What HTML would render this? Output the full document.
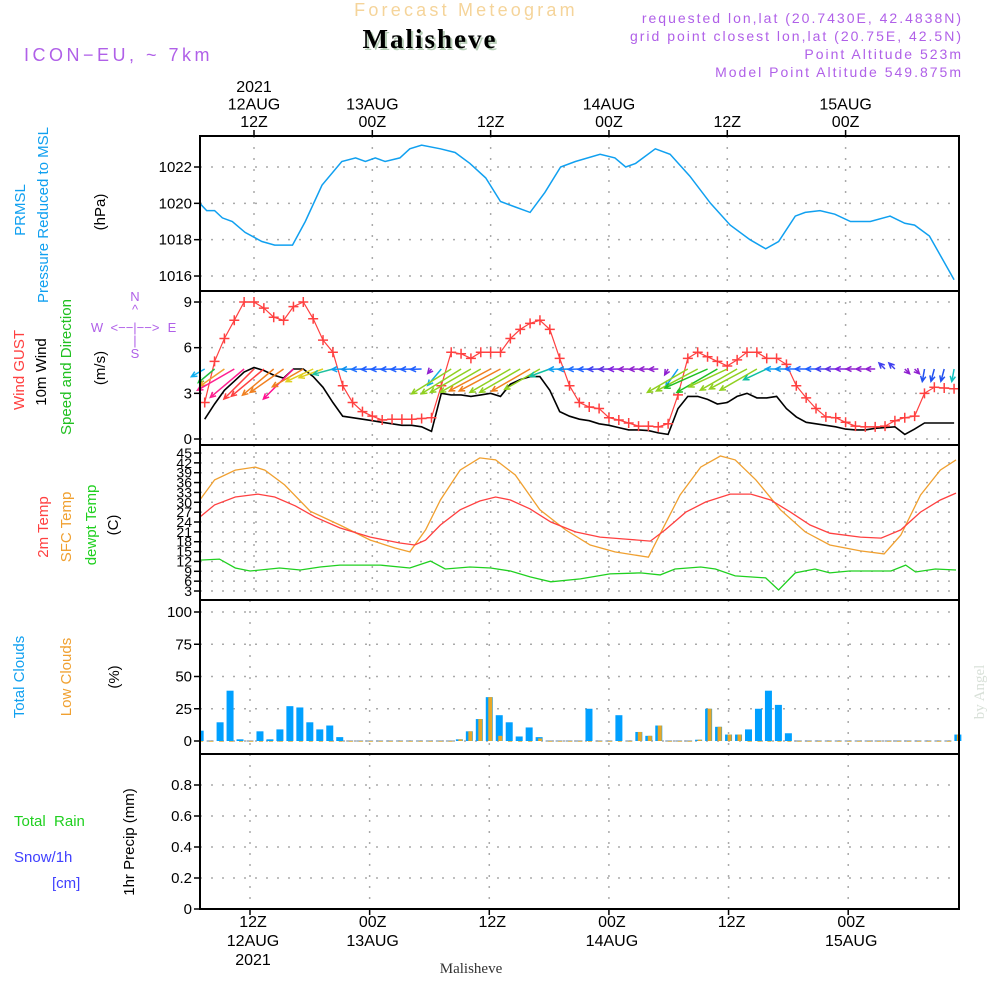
<!DOCTYPE html>
<html><head><meta charset="utf-8"><style>
body{margin:0;background:#fff;}
svg{display:block;font-family:"Liberation Sans",sans-serif;}
</style></head><body>
<svg id="chart" width="1000" height="1000" viewBox="0 0 1000 1000" xmlns="http://www.w3.org/2000/svg">
<g>
<text x="466" y="16" text-anchor="middle" font-size="18" letter-spacing="3.2" fill="#f5d49a">Forecast Meteogram</text>
<text x="432" y="50" text-anchor="middle" font-family="Liberation Serif,serif" font-weight="bold" font-size="27" letter-spacing="2" fill="#b8cfb8">Malisheve</text>
<text x="430" y="48" text-anchor="middle" font-family="Liberation Serif,serif" font-weight="bold" font-size="27" letter-spacing="2" fill="#000">Malisheve</text>
<text x="24" y="61" font-size="18" letter-spacing="3.5" fill="#b060e8">ICON−EU, ~ 7km</text>
<g font-size="14" fill="#b060e8" text-anchor="end" letter-spacing="2">
<text x="963" y="23">requested lon,lat (20.7430E, 42.4838N)</text>
<text x="963" y="41">grid point closest lon,lat (20.75E, 42.5N)</text>
<text x="963" y="59">Point Altitude 523m</text>
<text x="963" y="77">Model Point Altitude 549.875m</text>
</g>
</g>
<g id="grids"></g>
<g id="marks"></g>
<g id="axes"></g>
<g font-size="15">
<text transform="translate(25,210) rotate(-90)" text-anchor="middle" fill="#10a0f0">PRMSL</text>
<text transform="translate(48,215) rotate(-90)" text-anchor="middle" fill="#10a0f0">Pressure Reduced to MSL</text>
<text transform="translate(105,212) rotate(-90)" text-anchor="middle" fill="#000">(hPa)</text>
<text transform="translate(24,370) rotate(-90)" text-anchor="middle" fill="#ff4040">Wind GUST</text>
<text transform="translate(46,372) rotate(-90)" text-anchor="middle" fill="#000">10m Wind</text>
<text transform="translate(71,367) rotate(-90)" text-anchor="middle" fill="#20c020">Speed and Direction</text>
<text transform="translate(105,368) rotate(-90)" text-anchor="middle" fill="#000">(m/s)</text>
<g fill="#b060e8" font-size="13" text-anchor="middle">
<text x="135" y="301">N</text><text x="135" y="314">^</text><text x="135" y="332">&lt;−−|−−&gt;</text><text x="97" y="332">W</text><text x="172" y="332">E</text><text x="135" y="345">|</text><text x="135" y="358">S</text>
</g>
<text transform="translate(48,527) rotate(-90)" text-anchor="middle" fill="#ff4040">2m Temp</text>
<text transform="translate(71,527) rotate(-90)" text-anchor="middle" fill="#f0a030">SFC Temp</text>
<text transform="translate(96,525) rotate(-90)" text-anchor="middle" fill="#20d020">dewpt Temp</text>
<text transform="translate(118,525) rotate(-90)" text-anchor="middle" fill="#000">(C)</text>
<text transform="translate(24,677) rotate(-90)" text-anchor="middle" fill="#10a0f0">Total Clouds</text>
<text transform="translate(71,677) rotate(-90)" text-anchor="middle" fill="#f0a030">Low Clouds</text>
<text transform="translate(119,677) rotate(-90)" text-anchor="middle" fill="#000">(%)</text>
<text x="14" y="826" fill="#20d020" xml:space="preserve">Total  Rain</text>
<text x="14" y="862" fill="#4040ff">Snow/1h</text>
<text x="52" y="888" fill="#4040ff">[cm]</text>
<text transform="translate(134,842) rotate(-90)" text-anchor="middle" fill="#000">1hr Precip (mm)</text>
</g>
<text x="471" y="973" text-anchor="middle" font-family="Liberation Serif,serif" font-size="15" fill="#333">Malisheve</text>
<text transform="translate(984,692) rotate(-90)" text-anchor="middle" font-family="Liberation Serif,serif" font-size="15" fill="#d8e0d8">by Angel</text>
</svg>
<script>
// ---- data ----
const pressHours=[-5.5,-4.8,-4.0,-3.2,-2.2,-0.9,0.8,2.1,3.9,5.2,6.9,8.9,10.3,11.3,12.3,13.3,14.8,15.8,17.0,18.9,20.4,21.9,23.5,25.0,26.5,28.0,29.5,31.1,32.6,35.1,36.6,37.7,38.7,40.7,42.2,44.2,46.3,48.3,50.3,51.9,53.2,54.9,55.9,57.4,58.9,60.5,62.5,64.5,66.0,67.0,68.5,71.0];
const pressVals=[1020.0,1019.6,1019.6,1019.2,1019.0,1018.4,1017.9,1017.7,1017.7,1019.0,1021.0,1022.3,1022.5,1022.3,1022.5,1022.3,1022.5,1023.0,1023.2,1023.0,1022.8,1022.2,1021.4,1020.1,1019.8,1019.5,1020.6,1022.0,1022.3,1022.7,1022.5,1022.0,1022.2,1023.0,1022.7,1021.5,1020.0,1018.8,1018.0,1017.5,1017.9,1019.3,1019.5,1019.6,1019.4,1019.0,1019.0,1019.3,1018.9,1018.8,1018.2,1015.8];
const windStartHour=-5;
const gustVals=[2.4,5.1,6.6,7.8,9.0,9.0,8.6,8.0,7.8,8.7,9.0,7.9,6.5,5.7,3.5,2.4,1.8,1.5,1.25,1.3,1.3,1.3,1.35,1.4,3.5,5.7,5.6,5.3,5.7,5.7,5.7,6.6,7.2,7.6,7.8,7.2,5.3,3.5,2.4,2.1,2.0,1.4,1.25,1.05,0.85,0.85,0.8,1.0,2.9,5.3,5.7,5.4,5.1,4.8,5.2,5.7,5.7,5.3,5.3,4.9,3.5,2.7,2.0,1.45,1.4,1.1,0.85,0.8,0.8,0.85,1.2,1.4,1.5,3.0,3.4,3.35,3.3];
const windVals=[1.3,2.3,3.2,3.8,4.4,4.7,4.5,4.2,4.0,4.6,4.6,4.1,3.4,2.4,1.5,1.4,1.3,1.2,1.1,1.0,0.9,0.9,0.8,0.5,3.0,2.9,2.9,2.8,2.9,3.0,2.8,3.6,3.9,4.1,4.1,3.2,1.8,1.5,1.3,1.2,1.0,0.9,0.75,0.6,0.6,0.55,0.4,0.3,2.0,2.8,2.8,2.6,2.3,2.4,2.8,3.0,2.7,2.7,2.8,2.0,1.45,1.1,1.0,0.9,0.8,0.65,0.6,0.6,0.7,0.75,0.8,0.3,0.65,1.05,1.05,1.05,1.05];
const vecDir=[150,140,145,150,140,135,140,140,145,135,150,155,160,165,178,178,178,178,178,178,178,178,178,130,130,148,148,150,150,152,152,150,150,150,150,160,178,178,178,178,178,178,178,178,178,178,178,120,125,150,152,156,150,155,150,152,150,155,180,180,180,180,180,180,180,180,180,180,180,225,225,45,45,100,105,105,100];
const vecSpeed=[1.8,2.5,3.5,5.0,5.2,5.0,5.0,4.8,4.8,5.0,4.2,3.5,3.0,2.4,1.3,1.3,1.3,1.3,1.3,1.3,1.3,1.3,1.3,0.7,2.5,5.5,5.5,5.5,5.5,5.5,5.5,5.5,5.5,5.2,4.8,2.5,1.3,1.3,1.3,1.3,1.3,1.2,1.2,1.2,1.1,1.1,1.1,0.8,2.5,5.5,5.5,5.5,5.5,5.0,5.0,5.0,5.0,3.0,1.3,1.3,1.3,1.3,1.2,1.2,1.2,1.2,1.1,1.1,1.1,1.0,1.0,0.8,0.8,1.5,1.5,1.5,1.5];
const vecColor=['#10b0f0','#20c040','#f0a030','#ff2090','#ff2090','#ff4040','#ff4040','#f08020','#f08020','#ff1090','#f08020','#e0d020','#e0d020','#20c0a0','#10a0f0','#1090f0','#2070ff','#2060ff','#2060ff','#2060ff','#2060ff','#2060ff','#2060ff','#9020d0','#10b0e0','#90d020','#90d020','#90d020','#90d020','#f08020','#f08020','#90d020','#90d020','#f08020','#90d020','#10c0a0','#10a0f0','#1090f0','#2070ff','#2060ff','#4040f0','#6030e0','#8020e0','#9020d0','#9020d0','#9020d0','#9020d0','#9020d0','#10a0f0','#90d020','#90d020','#20c020','#20c020','#90d020','#90d020','#90d020','#90d020','#10c0a0','#10a0f0','#1090f0','#2070ff','#2060ff','#2060ff','#4040f0','#6030e0','#8020e0','#9020d0','#9020d0','#9020d0','#4040f0','#4040f0','#9020d0','#9020d0','#2050f0','#2050f0','#2050f0','#10c0c0'];
const t2Hours=[-5.5,-4,-1.9,0.4,2.1,4.2,6.2,8.7,11.8,14.8,16.3,17.4,18.9,20.9,22.9,24.5,26,28,30.1,32.6,35.1,37.7,40.2,41.7,43.8,45.8,48.3,50.4,52.4,54.4,56.4,58.4,61.5,63.6,65.6,67.6,69.6,71.2];
const t2Vals=[25.5,29.2,31.6,32.5,31.6,28.9,25.5,22.2,19.4,17.6,17,18.5,23.1,27.7,30.4,31.6,30.7,28,24,21,19.4,18.8,18.2,21.6,27,30.1,32.5,32.5,30.7,27,23.1,20.6,19.4,19.1,21.6,27,30.7,32.8];
const sfcHours=[-5.5,-4,-1.9,0.1,1.1,3.1,5.7,8.7,11.8,14.3,15.8,17.4,18.9,20.9,22.9,24.5,26.5,29,31.6,34.1,36.6,40,41.4,43.2,45.3,47.3,48.8,50.9,53.4,55.9,58.4,61.5,63.9,65.6,67.6,69.6,71.2];
const sfcVals=[30.7,36.8,39.8,40.7,39.8,35.3,27.3,23.1,18.5,16.1,14.9,21.6,30.7,39.8,43.5,42.9,38.3,27.7,21.6,17,14.9,13.3,21.6,32.2,40.7,44.1,42.9,36.8,27.7,21,17,15.2,14.3,20,32.2,39.8,42.9];
const dewHours=[-5.5,-3.5,-1.9,-0.4,2.6,4.7,6.7,8.7,12.8,15.8,17.9,19.4,21.9,24,26,28,30.1,33.1,36.1,39.2,41.2,42.7,45.3,46.8,48.8,51.9,53.2,54.9,56.9,58.4,60.4,64.6,66.1,67.1,69.1,71.2];
const dewVals=[12.4,12.7,10,9.1,10,9.4,10.3,10.9,10.9,10,12.1,9.7,10.3,10,9.1,7.3,5.8,6.7,8.2,8.5,7.9,9.7,10.3,9.7,7.6,7,3.3,8.5,9.7,8.5,9.1,9.1,10.9,8.8,9.7,9.4];
const cloudStartHour=-5;
const totalCloud=[8,0.5,14.5,39,1.3,0.5,7.5,1.3,9,27,26,14.5,9,12,3,0,0,0,0,0,0,0,0,0,0,0,1.3,7.5,17,34,20,14.5,3.5,10.5,3,0,0,0,0,25,0,0,20,0,7,4,12,0,0,0,1,25,11,5,5,9,25,39,28,6,0,0,0,0,0,0,0,0,0,0,0,0,0,0,0,0,5];
const lowCloud=[0,0,0,0,0,0,0,0,0,0,0,0,0,0,0,0,0,0,0,0,0,0,0,0,0,0,1.3,7.5,17,34,4,0,0,0,2,0,0,0,0,0,0,0,0,0,7,4,12,0,0,0,1,25,11,5,5,0,0,0,0,0,0,0,0,0,0,0,0,0,0,0,0,0,0,0,0,0,5];
const precipVals=new Array(77).fill(0);
const pressTicks=[1016,1018,1020,1022];
const windTicks=[0,3,6,9];
const tempTicks=[3,6,9,12,15,18,21,24,27,30,33,36,39,42,45];
const cloudTicks=[0,25,50,75,100];
const precipTicks=[0,0.2,0.4,0.6,0.8];
const timeTickHours=[0,12,24,36,48,60];
const topTimeLabels=[['2021','12AUG','12Z'],['13AUG','00Z'],['12Z'],['14AUG','00Z'],['12Z'],['15AUG','00Z']];
const bottomTimeLabels=[['12Z','12AUG','2021'],['00Z','13AUG'],['12Z'],['00Z','14AUG'],['12Z'],['00Z','15AUG']];

// ---- scales ----
const X0=200,X1=959;
const xw=h=>254+9.86*h;
const xc=h=>250+9.97*h;
const yP=v=>167+(1022-v)*18.17;
const yW=v=>439-v*15.22;
const yT=v=>453+(45-v)*3.286;
const yC=v=>741-v*1.29;
const yR=v=>909-v*155;
const NS='http://www.w3.org/2000/svg';
const gG=document.getElementById('grids'),gM=document.getElementById('marks'),gA=document.getElementById('axes');
function el(tag,attrs,parent){const e=document.createElementNS(NS,tag);for(const k in attrs)e.setAttribute(k,attrs[k]);parent.appendChild(e);return e;}
const panels=[{top:136,bot:291,ticks:pressTicks,y:yP,x:xw,name:'pressure'},{top:291,bot:445,ticks:windTicks,y:yW,x:xw,name:'wind'},{top:445,bot:600,ticks:tempTicks,y:yT,x:xw,name:'temp'},{top:600,bot:754,ticks:cloudTicks,y:yC,x:xc,name:'cloud'},{top:754,bot:909,ticks:precipTicks,y:yR,x:xc,name:'precip'}];
panels.forEach(p=>{
  p.ticks.forEach(t=>{
    const y=p.y(t);
    const gl=el('line',{x1:X0,x2:X1,y1:y,y2:y,stroke:'#aaa','stroke-width':1.5,'stroke-dasharray':'2,9'},gG);
    
    
    const tk=el('line',{x1:X0-6,x2:X0,y1:y,y2:y,stroke:'#000','stroke-width':1.5},gA);
    
    
    const tx=el('text',{x:X0-8,y:y+5,'text-anchor':'end','font-size':p.name==='temp'?14:15,fill:'#000'},gA);
    
    
    tx.textContent=String(t);
  });
  timeTickHours.forEach(h=>{
    const x=p.x(h);
    const gl=el('line',{x1:x,x2:x,y1:p.top,y2:p.bot,stroke:'#aaa','stroke-width':1.5,'stroke-dasharray':'2,9'},gG);
    
    
  });
  const r=el('rect',{x:X0,y:p.top,width:X1-X0,height:p.bot-p.top,fill:'none',stroke:'#000','stroke-width':2},gA);
  
  
});
timeTickHours.forEach((h,i)=>{
  const x=xw(h);
  const tk=el('line',{x1:x,x2:x,y1:130,y2:136,stroke:'#000','stroke-width':1.5},gA);
  
  
  const lines=topTimeLabels[i];
  lines.forEach((s,j)=>{
    const t=el('text',{x:x,y:127-(lines.length-1-j)*17.5,'text-anchor':'middle','font-size':16,fill:'#000'},gA);
    
    
    t.textContent=s;
  });
  const xb=xc(h);
  const tb=el('line',{x1:xb,x2:xb,y1:909,y2:915,stroke:'#000','stroke-width':1.5},gA);
  
  
  bottomTimeLabels[i].forEach((s,j)=>{
    const t=el('text',{x:xb+3,y:927+j*19,'text-anchor':'middle','font-size':16,fill:'#000'},gA);
    
    
    t.textContent=s;
  });
});
function path(hs,vs,xf,yf){return hs.map((h,i)=>(i?'L':'M')+xf(h).toFixed(1)+','+yf(vs[i]).toFixed(1)).join('');}
const hrs=(start,n)=>Array.from({length:n},(_,i)=>start+i);
const pp=el('path',{d:path(pressHours,pressVals,xw,yP),fill:'none',stroke:'#10a0f0','stroke-width':1.5},gM);


const wh=hrs(windStartHour,windVals.length);
const wl=el('path',{d:path(wh,windVals,xw,yW),fill:'none',stroke:'#000','stroke-width':1.6},gM);


const gh=hrs(windStartHour,gustVals.length);
const gl=el('path',{d:path(gh,gustVals,xw,yW),fill:'none',stroke:'#ff4040','stroke-width':1.2},gM);


gh.forEach((h,i)=>{
  const x=xw(h),y=yW(gustVals[i]);
  const m=el('path',{d:`M${x-5},${y}H${x+5}M${x},${y-5}V${y+5}`,stroke:'#ff4040','stroke-width':1.5},gM);
  
  
});
const vecAnchor=yW(4.6);
wh.forEach((h,i)=>{
  const x=xw(h),y=vecAnchor,L=8.5*vecSpeed[i],a=vecDir[i]*Math.PI/180;
  const x2=x+L*Math.cos(a),y2=y+L*Math.sin(a);
  const hl=6,b1=a+Math.PI-0.45,b2=a+Math.PI+0.45;
  const v=el('path',{d:`M${x.toFixed(1)},${y.toFixed(1)}L${x2.toFixed(1)},${y2.toFixed(1)}M${(x2+hl*Math.cos(b1)).toFixed(1)},${(y2+hl*Math.sin(b1)).toFixed(1)}L${x2.toFixed(1)},${y2.toFixed(1)}L${(x2+hl*Math.cos(b2)).toFixed(1)},${(y2+hl*Math.sin(b2)).toFixed(1)}`,fill:'none',stroke:vecColor[i],'stroke-width':1.5},gM);
  
  
});
[[sfcHours,sfcVals,'#f0a030','sfc-temp-line'],[t2Hours,t2Vals,'#ff4040','temp-2m-line'],[dewHours,dewVals,'#20d020','dewpoint-line']].forEach(s=>{
  const p=el('path',{d:path(s[0],s[1],xw,yT),fill:'none',stroke:s[2],'stroke-width':1.3},gM);
  
  
});
const ch=hrs(cloudStartHour,totalCloud.length);
ch.forEach((h,i)=>{
  const x=xc(h);
  const v=totalCloud[i];
  if(v>0.6){
    const b=el('rect',{x:Math.max(X0,x-3.5),y:yC(v),width:Math.min(7,x+3.5-Math.max(X0,x-3.5)),height:yC(0)-yC(v),fill:'#00a0ff'},gM);
    
    
  } else {
    const b=el('line',{x1:x-3.5,x2:x+3.5,y1:yC(0),y2:yC(0),stroke:'#9ab',"stroke-width":1.5},gM);
    
    
  }
  const lv=lowCloud[i];
  if(lv>0.6){
    const b=el('rect',{x:x-1,y:yC(lv),width:Math.min(4,X1-x+1),height:yC(0)-yC(lv),fill:'#e8a828'},gM);
    
    
  } else {
    const b=el('line',{x1:x-1,x2:x+3,y1:yC(0)+0.5,y2:yC(0)+0.5,stroke:'#e8c060',"stroke-width":1},gM);
    
    
  }
});
const rh=hrs(cloudStartHour,precipVals.length);
rh.forEach((h,i)=>{
  if(precipVals[i]>0){
    const b=el('rect',{x:xc(h)-3.5,y:yR(precipVals[i]),width:7,height:yR(0)-yR(precipVals[i]),fill:'#20d020'},gM);
    
    
  }
});
</script>
</body></html>
